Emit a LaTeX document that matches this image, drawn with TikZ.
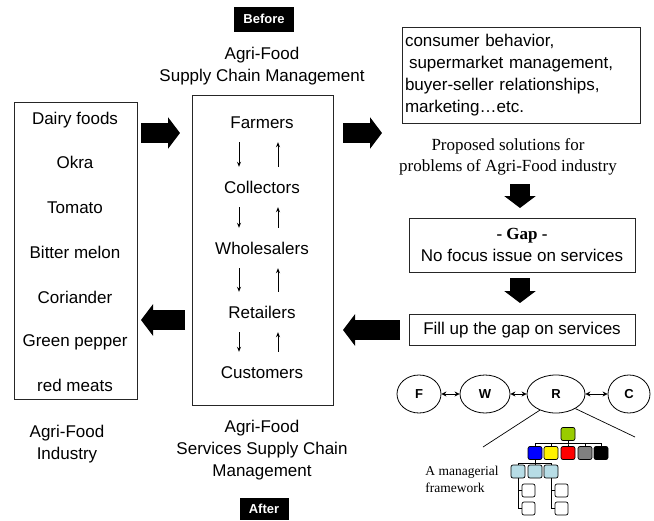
\documentclass[tikz,border=0pt]{standalone}
\usepackage{fontspec}
\setmainfont{Liberation Sans}
\newfontfamily\timesfont{Liberation Serif}
\usetikzlibrary{arrows.meta,shapes.geometric,positioning}
\definecolor{leafgreen}{HTML}{99CC00}
\definecolor{paleblue}{HTML}{B7DDE6}

\begin{document}
\begin{tikzpicture}[
    x=1pt, y=-1pt,
    every node/.style={font=\fontsize{17}{22}\selectfont},
    box/.style={draw=black!85, line width=0.8pt},
    item/.style={inner sep=2pt, text height=12pt, text depth=0pt},
    fatarrow/.style={line width=20pt, -{Triangle[width=31pt,length=12pt]}},
    flow/.style={line width=0.9pt, -{Stealth[length=5pt,width=4pt]},
      shorten <=12pt, shorten >=12pt},
    link/.style={line width=0.9pt,
      {Stealth[length=5pt,width=5pt]}-{Stealth[length=5pt,width=5pt]}},
    tag/.style={fill=black, text=white, inner sep=0pt,
      font=\bfseries\fontsize{13}{15}\selectfont},
    role/.style={ellipse, draw, line width=0.8pt, minimum height=38pt,
      inner sep=0pt, font=\bfseries\fontsize{13}{15}\selectfont},
    org/.style={draw, rounded corners=2pt, line width=0.7pt,
      minimum width=14pt, minimum height=13pt, inner sep=0pt},
  ]
    \useasboundingbox (0,0) rectangle (654,520);

    % titles of the chain
    \node[tag, minimum width=60pt, minimum height=25pt] (before) at (264,19) {Before};
    \node[align=center] (sctop) at (262,66) {Agri-Food\\Supply Chain Management};
    \node[align=center] (scbot) at (262,450) {Agri-Food\\Services Supply Chain\\Management};
    \node[tag, minimum width=49pt, minimum height=22pt] (after) at (264,509) {After};

    % products
    \node[box, minimum width=123pt, minimum height=297pt] (leftbox) at (75.5,250.5) {};
    \node[item] (dairy)  at (75,118) {Dairy foods};
    \node[item] (okra)   at (75,162) {Okra};
    \node[item] (tomato) at (75,207) {Tomato};
    \node[item] (bitter) at (75,252) {Bitter melon};
    \node[item] (cori)   at (75,297) {Coriander};
    \node[item] (pepper) at (75,340) {Green pepper};
    \node[item] (meats)  at (75,385) {red meats};
    \node[align=center] (industry) at (67,444) {Agri-Food\\Industry};

    % supply chain
    \node[box, minimum width=141pt, minimum height=310pt] (chain) at (262.5,250) {};
    \node[item] (farm)  at (262,122) {Farmers};
    \node[item] (coll)  at (262,187) {Collectors};
    \node[item] (whole) at (262,248) {Wholesalers};
    \node[item] (ret)   at (262,312) {Retailers};
    \node[item] (cust)  at (262,372) {Customers};
    \foreach \a/\b in {farm/coll, coll/whole, whole/ret, ret/cust} {
      \draw[flow] ([xshift=-23pt]\a.south) -- ([xshift=-23pt]\b.north);
      \draw[flow] ([xshift=16pt]\b.north) -- ([xshift=16pt]\a.south);
    }

    % research side
    \node[box, text width=232pt, inner xsep=3pt, minimum height=96pt, align=left]
      (sol) at (521,75)
      {consumer behavior,\\\hspace{4pt}supermarket management,\\buyer-seller relationships,\\marketing\ldots etc.};
    \node[align=center, font=\timesfont\fontsize{17}{21}\selectfont]
      (prop) at (508,157) {Proposed solutions for\\problems of Agri-Food industry};
    \node[box, minimum width=226pt, minimum height=54pt, align=center] (gap) at (522,245)
      {{\timesfont\bfseries - Gap -}\\No focus issue on services};
    \node[box, minimum width=226pt, minimum height=31pt] (fill) at (522,330)
      {Fill up the gap on services};

    % big arrows
    \coordinate (a1s) at (141,133);  \coordinate (a1e) at (180,133);
    \coordinate (a2s) at (343,133);  \coordinate (a2e) at (382,133);
    \coordinate (a3s) at (520,184);  \coordinate (a3e) at (520,208);
    \coordinate (a4s) at (520,278);  \coordinate (a4e) at (520,303);
    \coordinate (a5s) at (400,330);  \coordinate (a5e) at (343,330);
    \coordinate (a6s) at (185,320);  \coordinate (a6e) at (141,320);
    \foreach \n in {1,...,6}
      \draw[fatarrow] (a\n s) -- (a\n e);

    % F W R C
    \node[role, minimum width=44pt] (F) at (419,394) {F};
    \node[role, minimum width=50pt] (W) at (485,394) {W};
    \node[role, minimum width=58pt] (R) at (556,394) {R};
    \node[role, minimum width=42pt] (C) at (629,394) {C};
    \draw[link] (F) -- (W);
    \draw[link] (W) -- (R);
    \draw[link] (R) -- (C);
    \coordinate (zoomL) at (483,447);
    \coordinate (zoomR) at (635,437);
    \draw[line width=0.7pt] (R.225) -- (zoomL);
    \draw[line width=0.7pt] (R.-37) -- (zoomR);

    % managerial framework
    \node[org, fill=leafgreen] (g0) at (568,434) {};
    \node[org, fill=blue]   (o1) at (535,453) {};
    \node[org, fill=yellow] (o2) at (551,453) {};
    \node[org, fill=red]    (o3) at (568,453) {};
    \node[org, fill=gray]   (o4) at (585,453) {};
    \node[org, fill=black]  (o5) at (601,453) {};
    \foreach \n in {o1,o2,o3,o4,o5}
      \draw[line width=0.8pt] (g0.south) -- ++(0,3) -| (\n.north);
    \node[org, fill=paleblue] (p1) at (518,471.5) {};
    \node[org, fill=paleblue] (p2) at (535,471.5) {};
    \node[org, fill=paleblue] (p3) at (551,471.5) {};
    \foreach \n in {p1,p2,p3}
      \draw[line width=0.8pt] (o1.south) -- ++(0,4) -| (\n.north);
    \node[org, fill=white, minimum width=13pt] (q1) at (528.5,490.5) {};
    \node[org, fill=white, minimum width=13pt] (q2) at (528.5,508.5) {};
    \node[org, fill=white, minimum width=13pt] (q3) at (561.5,490.5) {};
    \node[org, fill=white, minimum width=13pt] (q4) at (561.5,508.5) {};
    \draw[line width=0.8pt] (p1.south) |- (q1.west);
    \draw[line width=0.8pt] (p1.south) |- (q2.west);
    \draw[line width=0.8pt] (p3.south) |- (q3.west);
    \draw[line width=0.8pt] (p3.south) |- (q4.west);
    \node[align=left, font=\timesfont\fontsize{13.5}{17}\selectfont]
      (mgr) at (462,479) {A managerial\\framework};
  \end{tikzpicture}
\end{document}
